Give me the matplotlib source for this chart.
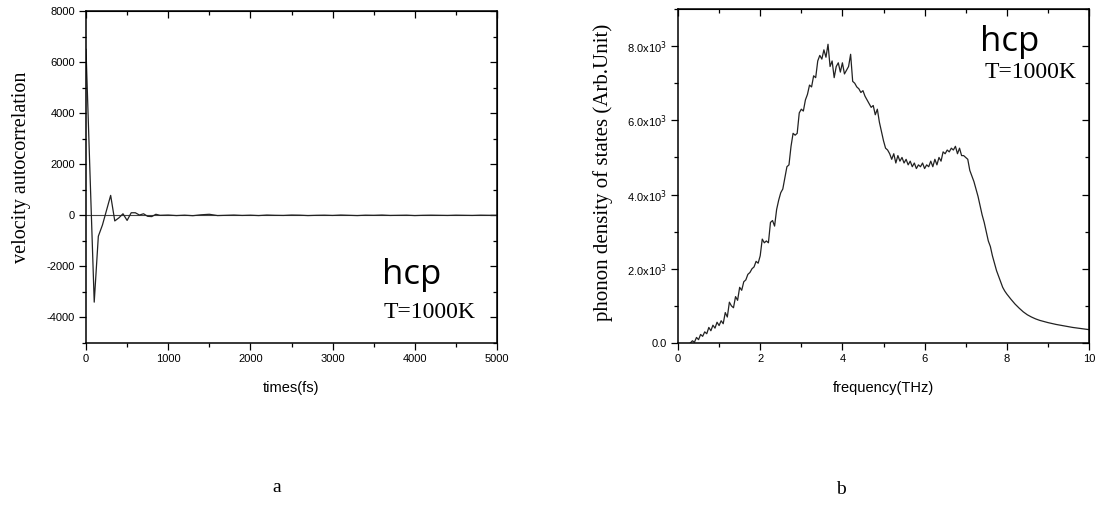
import matplotlib
matplotlib.use("Agg")
import matplotlib.pyplot as plt
from matplotlib.ticker import MultipleLocator, FuncFormatter

plt.rcParams["axes.unicode_minus"] = False

# velocity autocorrelation (left panel)
vacf_t = [0, 50, 100, 150, 200, 250, 300, 350, 400, 450, 500, 550, 600, 650,
          700, 750, 800, 850, 900, 1000, 1100, 1200, 1300, 1400, 1500, 1600,
          1700, 1800, 1900, 2000, 2100, 2200, 2300, 2400, 2500, 2600, 2700,
          2800, 2900, 3000, 3100, 3200, 3300, 3400, 3500, 3600, 3700, 3800,
          3900, 4000, 4100, 4200, 4300, 4400, 4500, 4600, 4700, 4800, 4900, 5000]
vacf_v = [6500, 1500, -3400, -820, -380, 200, 780, -220, -100, 60, -200, 100,
          100, 10, 60, -40, -50, 40, 0, 10, -10, 5, -15, 20, 40, -10, 0, 10,
          -5, 5, -10, 10, 0, -5, 10, 5, -10, 0, 5, -5, 10, 0, -10, 5, 0, 10,
          -5, 0, 5, -10, 0, 5, 0, -5, 5, 0, -5, 5, 0, 0]

# phonon density of states (right panel)
dos_f = [0.30, 0.35, 0.40, 0.45, 0.50, 0.55, 0.60, 0.65, 0.70, 0.75, 0.80, 0.85,
         0.90, 0.95, 1.00, 1.05, 1.10, 1.15, 1.20, 1.25, 1.30, 1.35, 1.40, 1.45,
         1.50, 1.55, 1.60, 1.65, 1.70, 1.75, 1.80, 1.85, 1.90, 1.95, 2.00, 2.05,
         2.10, 2.15, 2.20, 2.25, 2.30, 2.35, 2.40, 2.45, 2.50, 2.55, 2.60, 2.65,
         2.70, 2.75, 2.80, 2.85, 2.90, 2.95, 3.00, 3.05, 3.10, 3.15, 3.20, 3.25,
         3.30, 3.35, 3.40, 3.45, 3.50, 3.55, 3.60, 3.65, 3.70, 3.75, 3.80, 3.85,
         3.90, 3.95, 4.00, 4.05, 4.10, 4.15, 4.20, 4.25, 4.30, 4.35, 4.40, 4.45,
         4.50, 4.55, 4.60, 4.65, 4.70, 4.75, 4.80, 4.85, 4.90, 4.95, 5.00, 5.05,
         5.10, 5.15, 5.20, 5.25, 5.30, 5.35, 5.40, 5.45, 5.50, 5.55, 5.60, 5.65,
         5.70, 5.75, 5.80, 5.85, 5.90, 5.95, 6.00, 6.05, 6.10, 6.15, 6.20, 6.25,
         6.30, 6.35, 6.40, 6.45, 6.50, 6.55, 6.60, 6.65, 6.70, 6.75, 6.80, 6.85,
         6.90, 6.95, 7.00, 7.05, 7.10, 7.15, 7.20, 7.25, 7.30, 7.35, 7.40, 7.45,
         7.50, 7.55, 7.60, 7.65, 7.70, 7.75, 7.80, 7.85, 7.90, 7.95, 8.00, 8.10,
         8.20, 8.30, 8.40, 8.50, 8.60, 8.70, 8.80, 8.90, 9.00, 9.20, 9.40, 9.60,
         9.80, 10.0]
dos_v = [0, 60, 20, 150, 90, 230, 180, 300, 250, 420, 330, 480,
         400, 560, 470, 600, 520, 820, 700, 1100, 1000, 950, 1250, 1150,
         1500, 1420, 1650, 1700, 1850, 1900, 2000, 2050, 2200, 2150, 2350, 2800,
         2700, 2750, 2700, 3250, 3300, 3150, 3600, 3850, 4050, 4150, 4450, 4750,
         4800, 5300, 5650, 5600, 5650, 6200, 6300, 6250, 6550, 6700, 6950, 6900,
         7200, 7150, 7600, 7750, 7650, 7900, 7700, 8050, 7450, 7600, 7150, 7450,
         7550, 7300, 7550, 7250, 7350, 7450, 7780, 7050, 7000, 6900, 6850, 6750,
         6800, 6650, 6550, 6450, 6350, 6400, 6150, 6300, 5950, 5700, 5450, 5250,
         5200, 5100, 4950, 5100, 4850, 5050, 4900, 5000, 4850, 4950, 4800, 4900,
         4750, 4850, 4700, 4800, 4750, 4850, 4700, 4800, 4750, 4900, 4750, 4950,
         4800, 5000, 4900, 5150, 5100, 5200, 5150, 5250, 5200, 5300, 5100, 5250,
         5050, 5050, 5000, 4950, 4650, 4500, 4350, 4150, 3950, 3700, 3450, 3250,
         3000, 2750, 2600, 2350, 2150, 1950, 1800, 1650, 1500, 1400, 1320, 1180,
         1050, 940, 840, 760, 700, 650, 610, 580, 550, 500, 460, 420,
         390, 360]

tick_font = ["Liberation Sans Narrow", "Liberation Sans", "DejaVu Sans"]
serif_font = ["Liberation Serif", "DejaVu Serif"]
hcp_font = ["Open Sans", "DejaVu Sans"]

W, H = 1100, 508
fig = plt.figure(figsize=(W / 100, H / 100), dpi=100)


def box(l, t, r, b):
    return [l / W, 1 - b / H, (r - l) / W, (b - t) / H]


def style_axes(ax, xmaj, xmin, ymaj, ymin):
    ax.xaxis.set_major_locator(MultipleLocator(xmaj))
    ax.xaxis.set_minor_locator(MultipleLocator(xmin))
    ax.yaxis.set_major_locator(MultipleLocator(ymaj))
    ax.yaxis.set_minor_locator(MultipleLocator(ymin))
    ax.tick_params(which="both", direction="out", top=False, right=False,
                   labelsize=8, pad=3, width=0.9)
    ax.tick_params(which="major", length=5)
    ax.tick_params(which="minor", length=3)
    for lab in ax.get_xticklabels() + ax.get_yticklabels():
        lab.set_family(tick_font)
    for sp in ax.spines.values():
        sp.set_linewidth(1.1)
    # mirrored ticks pointing inward on top/right
    top = ax.secondary_xaxis("top")
    top.xaxis.set_major_locator(MultipleLocator(xmaj))
    top.xaxis.set_minor_locator(MultipleLocator(xmin))
    top.tick_params(which="both", direction="in", labeltop=False, width=0.9)
    top.tick_params(which="major", length=5)
    top.tick_params(which="minor", length=3)
    rgt = ax.secondary_yaxis("right")
    rgt.yaxis.set_major_locator(MultipleLocator(ymaj))
    rgt.yaxis.set_minor_locator(MultipleLocator(ymin))
    rgt.tick_params(which="both", direction="in", labelright=False, width=0.9)
    rgt.tick_params(which="major", length=5)
    rgt.tick_params(which="minor", length=3)


# left panel
ax1 = fig.add_axes(box(86, 11, 497, 343))
ax1.axhline(0, color="#444444", lw=0.8)
ax1.plot(vacf_t, vacf_v, color="#222222", lw=0.9)
ax1.set_xlim(0, 5000)
ax1.set_ylim(-5000, 8000)
style_axes(ax1, 1000, 500, 2000, 1000)

# right panel
ax2 = fig.add_axes(box(678, 9, 1089, 343))
ax2.plot(dos_f, dos_v, color="#222222", lw=0.9)
ax2.set_xlim(0, 10)
ax2.set_ylim(0, 9000)
style_axes(ax2, 2, 1, 2000, 1000)


def sci(v, pos):
    if v == 0:
        return "0.0"
    return "%.1fx10$^{3}$" % (v / 1000)


ax2.yaxis.set_major_formatter(FuncFormatter(sci))
for lab in ax2.get_yticklabels():
    lab.set_family(tick_font)


def ftext(x, y, s, **kw):
    fig.text(x / W, 1 - y / H, s, **kw)


# axis labels
ftext(22, 167, "velocity autocorrelation", rotation=90, ha="center", va="center",
      family=serif_font, fontsize=14.5)
ftext(603, 172, "phonon density of states (Arb.Unit)", rotation=90, ha="center",
      va="center", family=serif_font, fontsize=15)
ftext(291, 388, "times(fs)", ha="center", va="center", family=tick_font, fontsize=10.5)
ftext(883, 388, "frequency(THz)", ha="center", va="center", family=tick_font, fontsize=10.5)

# annotations
ftext(382, 284, "hcp", ha="left", va="baseline", family=hcp_font, fontsize=25)
ftext(384, 313, "T=1000K", ha="left", va="center", family=serif_font, fontsize=17)
ftext(980, 51, "hcp", ha="left", va="baseline", family=hcp_font, fontsize=25)
ftext(985, 72, "T=1000K", ha="left", va="center", family=serif_font, fontsize=17)

# panel letters
ftext(277, 487, "a", ha="center", va="center", family=serif_font, fontsize=14)
ftext(841, 490, "b", ha="center", va="center", family=serif_font, fontsize=14)

fig.savefig("out.png", dpi=100)
